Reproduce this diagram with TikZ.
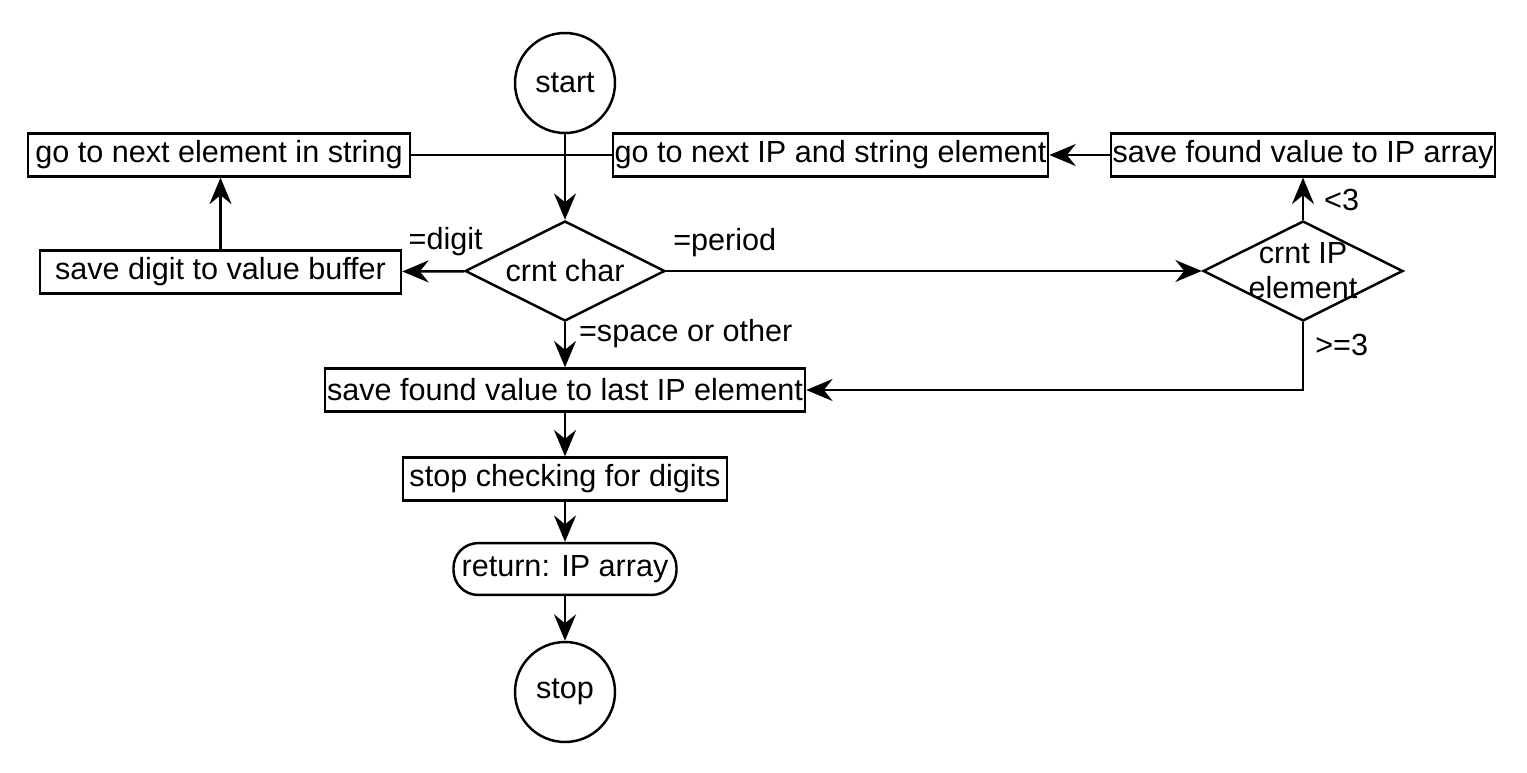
\documentclass[tikz,border=0pt]{standalone}
\usepackage{fontspec}
\setmainfont{Liberation Sans}
\usetikzlibrary{arrows.meta, positioning, shapes.geometric}

\newcommand{\flowfont}{\fontsize{17.4pt}{20pt}\selectfont}

\begin{document}
\begin{tikzpicture}[line width=1.4pt,
  every node/.style={font=\flowfont},
  flow/.style={-{Stealth[length=15pt, width=12.5pt, inset=5pt]}},
  process/.style={draw, rectangle, minimum height=24.4pt, inner xsep=1pt, inner ysep=0pt},
  terminal/.style={draw, circle, minimum size=2cm, inner sep=0pt},
  decision/.style={draw, diamond, aspect=2, minimum width=4cm, minimum height=2cm, inner sep=0pt},
  result/.style={draw, rectangle, rounded corners=14pt, minimum height=29.5pt, inner xsep=1pt}]
  \useasboundingbox (0,0) rectangle (30.54,-15.44);
  % Nodes
  \node[terminal] (start) at (11.3,-1.66) {start};
  \node[process, minimum width=7.64cm] (nextel) at (4.38,-3.1) {go to next element in string};
  \node[process, minimum width=8.66cm] (nextip) at (16.61,-3.1) {go to next IP and string element};
  \node[process, minimum width=7.68cm] (saveip) at (26.06,-3.1) {save found value to IP array};
  \node[decision] (crntchar) at (11.3,-5.42) {crnt char};
  \node[process, minimum width=7.22cm] (savedigit) at (4.41,-5.44) {save digit to value buffer};
  \node[decision, label={[align=center]center:crnt IP\\element}] (crntip) at (26.06,-5.42) {};
  \node[process, minimum width=9.6cm] (savelast) at (11.3,-7.8) {save found value to last IP element};
  \node[process, minimum width=6.48cm] (stopcheck) at (11.3,-9.58) {stop checking for digits};
  \node[result, minimum width=4.46cm] (retarr) at (11.3,-11.38) {return: IP array};
  \node[terminal] (stop) at (11.3,-13.84) {stop};
  % Connectors
  \draw (nextip) -- (nextel);
  \draw[flow] (start) -- (crntchar);
  \draw[flow] (saveip) -- (nextip);
  \draw[flow] (crntchar) -- node[above=5pt, pos=0.3] {=digit} (savedigit);
  \draw[flow] (savedigit) -- (savedigit |- nextel.south);
  \draw[flow] (crntchar) -- node[above right=4pt and 0pt, pos=0] {=period} (crntip);
  \draw[flow] (crntip) -- node[right, xshift=8pt, pos=0.47] {<3} (saveip);
  \draw[flow] (crntip) |- node[right, xshift=3pt, pos=0.17] {>=3} (savelast);
  \draw[flow] (crntchar) -- node[right, xshift=4pt, pos=0.25] {=space or other} (savelast);
  \draw[flow] (savelast) -- (stopcheck);
  \draw[flow] (stopcheck) -- (retarr);
  \draw[flow] (retarr) -- (stop);
\end{tikzpicture}
\end{document}
